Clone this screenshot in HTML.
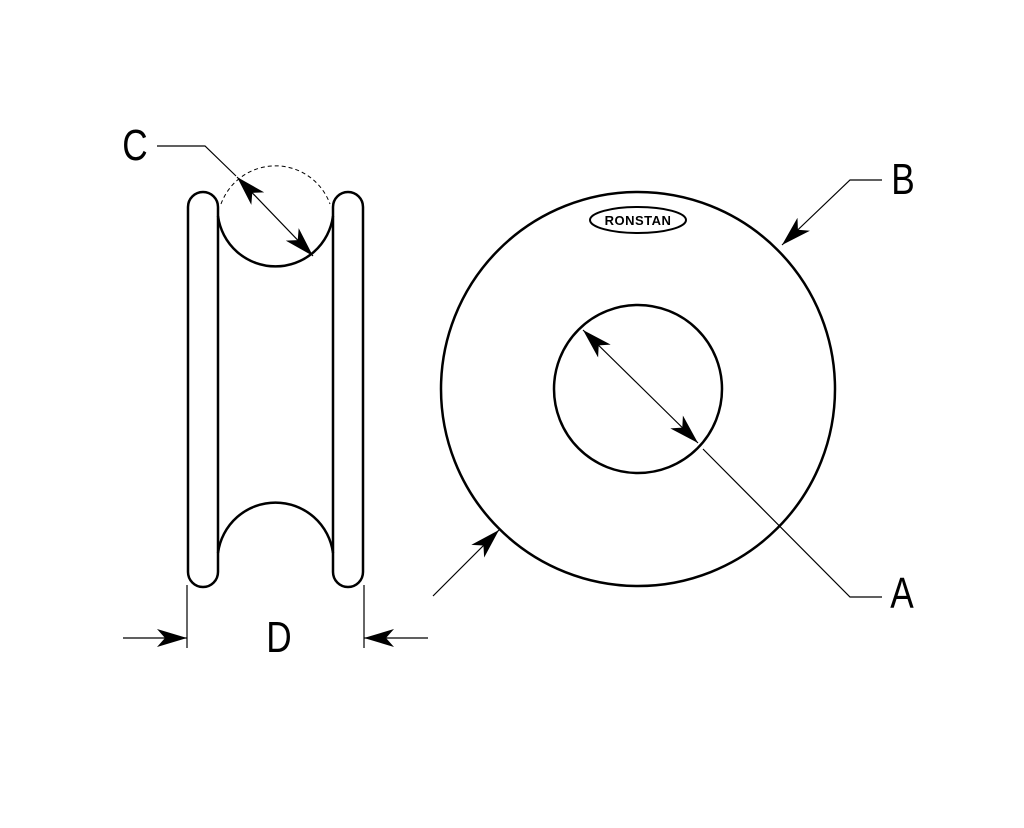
<!DOCTYPE html>
<html><head><style>body{margin:0;background:#fff}svg{display:block}</style></head><body>
<svg width="1024" height="828" viewBox="0 0 1024 828" xmlns="http://www.w3.org/2000/svg">
<defs>
<marker id="ar" viewBox="0 0 30 18" refX="30" refY="9" markerWidth="30" markerHeight="18" markerUnits="userSpaceOnUse" orient="auto-start-reverse">
<path d="M0,0 L30,9 L0,18 L8,9 Z" fill="#000"/></marker>
</defs>
<rect width="1024" height="828" fill="#fff"/>
<g fill="none" stroke="#000" stroke-width="2.5">
<rect x="188" y="192" width="30" height="395" rx="15"/>
<rect x="333" y="192" width="30" height="395" rx="15"/>
<path d="M218,216 A58,58 0 0 0 333,216"/>
<path d="M218,553 A58,58 0 0 1 333,553"/>
<circle cx="638" cy="389" r="197"/>
<circle cx="638" cy="389" r="84"/>
</g>
<path d="M221,204 A58,58 0 0 1 330,204" fill="none" stroke="#000" stroke-width="1" stroke-dasharray="4,3"/>
<ellipse cx="638" cy="220" rx="48" ry="13" fill="none" stroke="#000" stroke-width="2"/>
<text x="638" y="225" font-family="Liberation Sans, sans-serif" font-size="13" font-weight="bold" text-anchor="middle" letter-spacing="0.5">RONSTAN</text>
<g stroke="#000" stroke-width="1.2" fill="none">
<line x1="583" y1="330" x2="698" y2="443" marker-start="url(#ar)" marker-end="url(#ar)"/>
<polyline points="703,449 850,597 882,597"/>
<polyline points="882,180 850,180 782,245" marker-end="url(#ar)"/>
<line x1="433" y1="596" x2="499" y2="530" marker-end="url(#ar)"/>
<polyline points="157,146 205,146 236,176"/>
<line x1="237" y1="177" x2="313" y2="256" marker-start="url(#ar)" marker-end="url(#ar)"/>
<line x1="187" y1="585" x2="187" y2="648"/>
<line x1="364" y1="585" x2="364" y2="648"/>
<line x1="123" y1="638" x2="187" y2="638" marker-end="url(#ar)"/>
<line x1="428" y1="638" x2="364" y2="638" marker-end="url(#ar)"/>
</g>
<g font-family="Liberation Sans, sans-serif" font-size="44" fill="#000" text-anchor="middle">
<text transform="translate(135,160) scale(0.8,1)">C</text>
<text transform="translate(903,194) scale(0.8,1)">B</text>
<text transform="translate(902,608) scale(0.8,1)">A</text>
<text transform="translate(279,652) scale(0.8,1)">D</text>
</g>
</svg>
</body></html>
